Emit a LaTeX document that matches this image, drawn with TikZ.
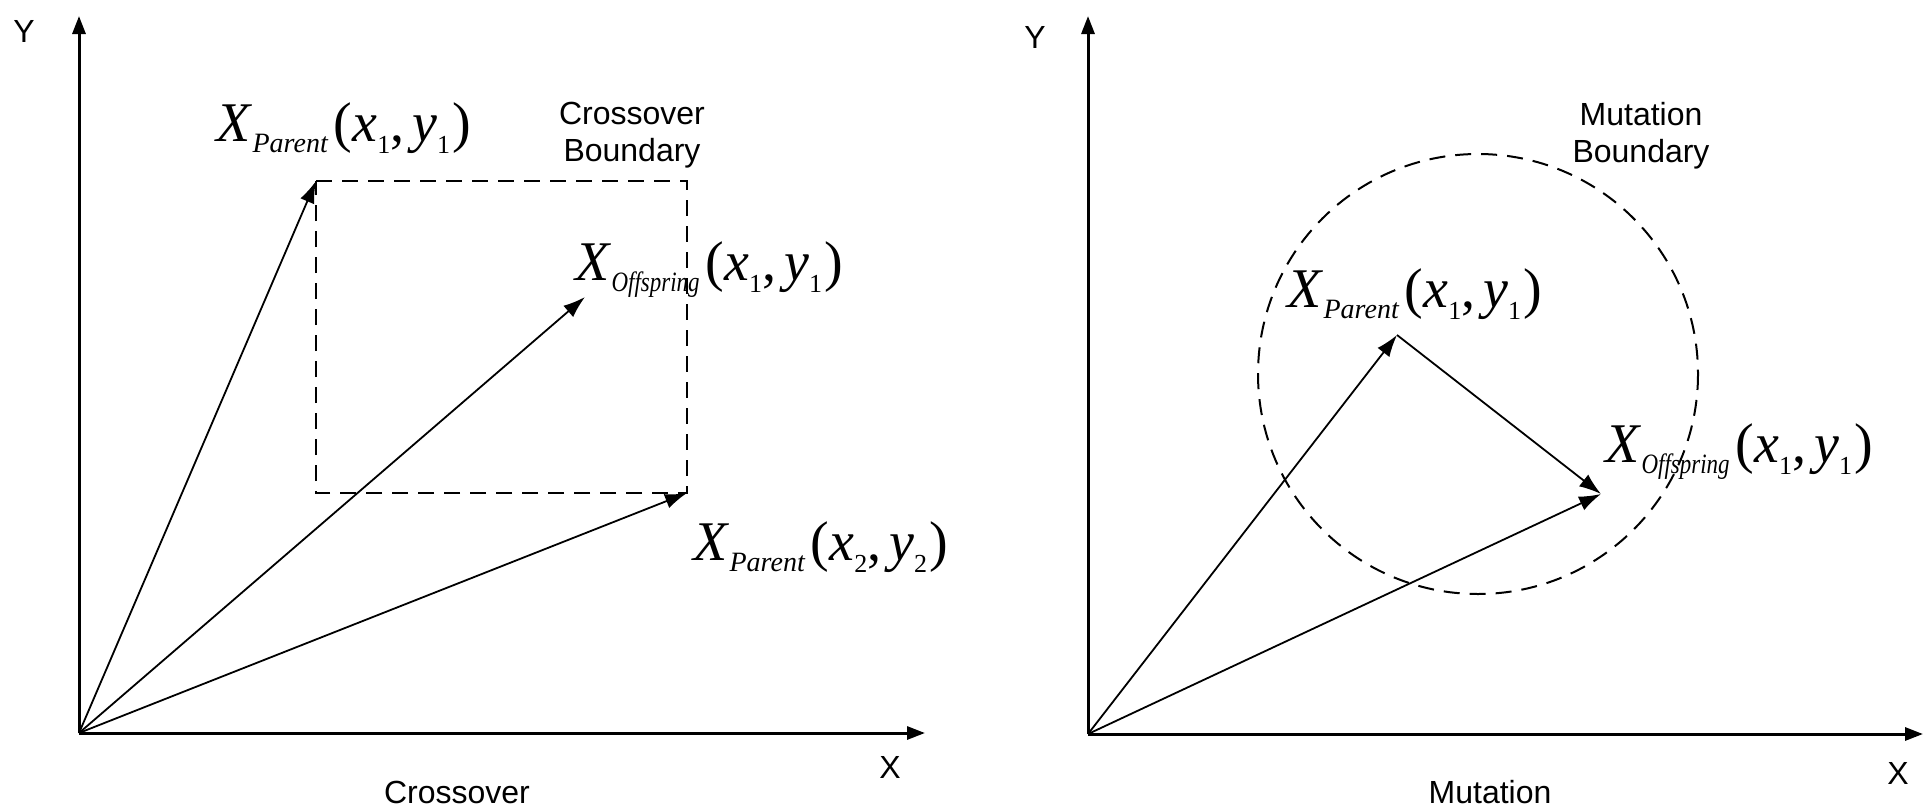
\documentclass[tikz,border=0pt]{standalone}
\usepackage{fontspec}
\setmainfont{Liberation Sans}
\newfontfamily\tnr{Liberation Serif}
\usetikzlibrary{arrows.meta}
\newcommand{\subfs}{\fontsize{14}{15}\selectfont}
\newcommand{\idxfs}{\fontsize{13}{14}\selectfont\upshape}
\newcommand{\vlab}[3]{{\tnr\fontsize{28}{30}\selectfont\itshape X\kern1pt\raisebox{-5.5pt}{\subfs #1}\kern3pt{\upshape(}x\raisebox{-6pt}{\idxfs #2}{\upshape,}\kern4pt y\raisebox{-6pt}{\idxfs #3}\kern1pt{\upshape)}}}
\newcommand{\offs}{\scalebox{0.82}[1]{Offspring}}
\tikzset{
  axis/.style={line width=1.5pt,-{Triangle[length=9pt,width=6.5pt]}},
  vec/.style={line width=0.9pt,-{Latex[length=11pt,width=7.5pt]}},
  bound/.style={line width=1pt,dash pattern=on 8pt off 5pt},
  mlab/.style={inner sep=0pt,anchor=base west},
  slab/.style={inner sep=0pt,font=\fontsize{16}{18.5}\selectfont,align=center}
}
\begin{document}
\begin{tikzpicture}[x=0.5pt,y=-0.5pt]
\useasboundingbox (0,0) rectangle (1925,809);
% left panel coordinates
\coordinate (O1) at (79,733);
\coordinate (Y1) at (79,16);
\coordinate (X1) at (925,733);
\coordinate (P1) at (316,181);
\coordinate (P2) at (687,493);
\coordinate (C1) at (585,297);
% right panel coordinates
\coordinate (O2) at (1088,734);
\coordinate (Y2) at (1088,16);
\coordinate (X2) at (1923,734);
\coordinate (MP) at (1397,335);
\coordinate (MO) at (1601,494);
\coordinate (MC) at (1478,374);
% axes
\draw[axis] (O1) -- (Y1);
\draw[axis] (O1) -- (X1);
\draw[axis] (O2) -- (Y2);
\draw[axis] (O2) -- (X2);
% crossover boundary
\draw[bound] (P1) -- (P1 -| P2) -- (P2) -- (P1 |- P2) -- cycle;
% crossover vectors
\draw[vec] (O1) -- (P1);
\draw[vec] (O1) -- (C1);
\draw[vec] (O1) -- (P2);
% mutation boundary
\draw[bound] (MC) circle[radius=220];
% mutation vectors
\draw[vec] (O2) -- (MP);
\draw[vec] (O2) -- (MO);
\draw[vec] (MP) -- (MO);
% labels left
\node[mlab] (lp1) at (216,141) {\vlab{Parent}{1}{1}};
\node[mlab] (lc1) at (575,280) {\vlab{\offs}{1}{1}};
\node[mlab] (lp2) at (693,560) {\vlab{Parent}{2}{2}};
\node[slab] (cb) at (632,135) {Crossover\\Boundary};
\node[slab] (ly1) at (24,31) {Y};
\node[slab] (lx1) at (890,767) {X};
\node[slab] (cap1) at (457,792) {Crossover};
% labels right
\node[mlab] (rp) at (1287,307) {\vlab{Parent}{1}{1}};
\node[mlab] (ro) at (1605,462) {\vlab{\offs}{1}{1}};
\node[slab] (mb) at (1641,136) {Mutation\\Boundary};
\node[slab] (ly2) at (1035,37) {Y};
\node[slab] (lx2) at (1898,773) {X};
\node[slab] (cap2) at (1490,792) {Mutation};
\end{tikzpicture}
\end{document}
